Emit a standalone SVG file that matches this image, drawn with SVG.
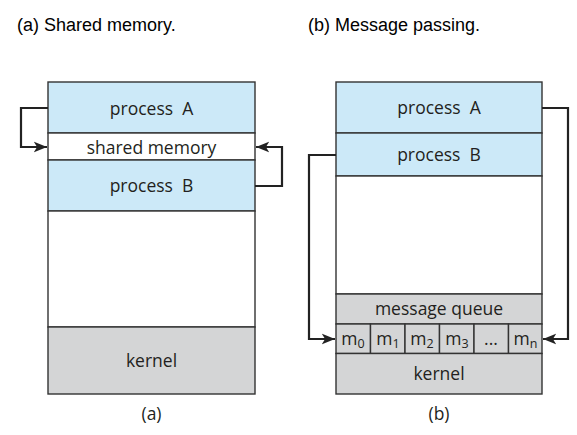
<svg xmlns="http://www.w3.org/2000/svg" width="577" height="435" viewBox="0 0 577 435">
<defs>
<marker id="ah" viewBox="0 0 10 10" refX="10" refY="5" markerWidth="6" markerHeight="6" orient="auto" markerUnits="strokeWidth">
<path d="M0,1 L10,5 L0,9 L2.5,5 Z" fill="#222"/>
</marker>
</defs>
<style>
.blue{fill:#cce9f8;stroke:#333;stroke-width:1.4}
.white{fill:#ffffff;stroke:#333;stroke-width:1.4}
.gray{fill:#d4d5d6;stroke:#333;stroke-width:1.4}
.lbl{font-family:"Open Sans","Liberation Sans",sans-serif;font-size:17.5px;fill:#231f20;text-anchor:middle}
.title{font-family:"Liberation Sans",Arial,sans-serif;font-size:18px;fill:#000}
.conn{fill:none;stroke:#222;stroke-width:2.2;marker-end:url(#ah)}
</style>
<rect width="577" height="435" fill="#fff"/>
<text class="title" x="17" y="31">(a) Shared memory.</text>
<text class="title" x="308" y="31">(b) Message passing.</text>

<g id="a-processA"><rect class="blue" x="48" y="82" width="207" height="51"/><text class="lbl" x="151.5" y="115" xml:space="preserve">process  A</text></g>
<g id="a-shared"><rect class="white" x="48" y="133" width="207" height="27"/><text class="lbl" x="151.5" y="154">shared memory</text></g>
<g id="a-processB"><rect class="blue" x="48" y="160" width="207" height="51"/><text class="lbl" x="151.5" y="192" xml:space="preserve">process  B</text></g>
<g id="a-free"><rect class="white" x="48" y="211" width="207" height="116"/></g>
<g id="a-kernel"><rect class="gray" x="48" y="327" width="207" height="67"/><text class="lbl" x="151.5" y="367">kernel</text></g>
<text class="lbl" x="151.5" y="420">(a)</text>

<g id="b-processA"><rect class="blue" x="336" y="82" width="206" height="51"/><text class="lbl" x="439" y="114" xml:space="preserve">process  A</text></g>
<g id="b-processB"><rect class="blue" x="336" y="133" width="206" height="43"/><text class="lbl" x="439" y="161" xml:space="preserve">process  B</text></g>
<g id="b-free"><rect class="white" x="336" y="176" width="206" height="118"/></g>
<g id="b-queue"><rect class="gray" x="336" y="294" width="206" height="30"/><text class="lbl" x="439" y="315">message queue</text></g>
<g id="b-m0"><rect class="gray" x="336" y="324" width="34.5" height="29.5"/><text class="lbl" x="353" y="345">m<tspan font-size="12.5" dy="3">0</tspan></text></g>
<g id="b-m1"><rect class="gray" x="370.5" y="324" width="34.5" height="29.5"/><text class="lbl" x="388" y="345">m<tspan font-size="12.5" dy="3">1</tspan></text></g>
<g id="b-m2"><rect class="gray" x="405" y="324" width="34.5" height="29.5"/><text class="lbl" x="422" y="345">m<tspan font-size="12.5" dy="3">2</tspan></text></g>
<g id="b-m3"><rect class="gray" x="439.5" y="324" width="34.5" height="29.5"/><text class="lbl" x="457" y="345">m<tspan font-size="12.5" dy="3">3</tspan></text></g>
<g id="b-mdots"><rect class="gray" x="474" y="324" width="34.5" height="29.5"/><text class="lbl" x="491" y="345">...</text></g>
<g id="b-mn"><rect class="gray" x="508.5" y="324" width="33.5" height="29.5"/><text class="lbl" x="525.5" y="345">m<tspan font-size="12.5" dy="3">n</tspan></text></g>
<g id="b-kernel"><rect class="gray" x="336" y="353.5" width="206" height="40.5"/><text class="lbl" x="439" y="380">kernel</text></g>
<text class="lbl" x="439" y="420">(b)</text>

<g id="connectors">
<path class="conn" d="M48,108 H21 V147 H47"/>
<path class="conn" d="M255,186 H282 V147 H256"/>
<path class="conn" d="M336,155 H309 V339 H335"/>
<path class="conn" d="M542,108 H568 V339 H543"/>
</g>
</svg>
